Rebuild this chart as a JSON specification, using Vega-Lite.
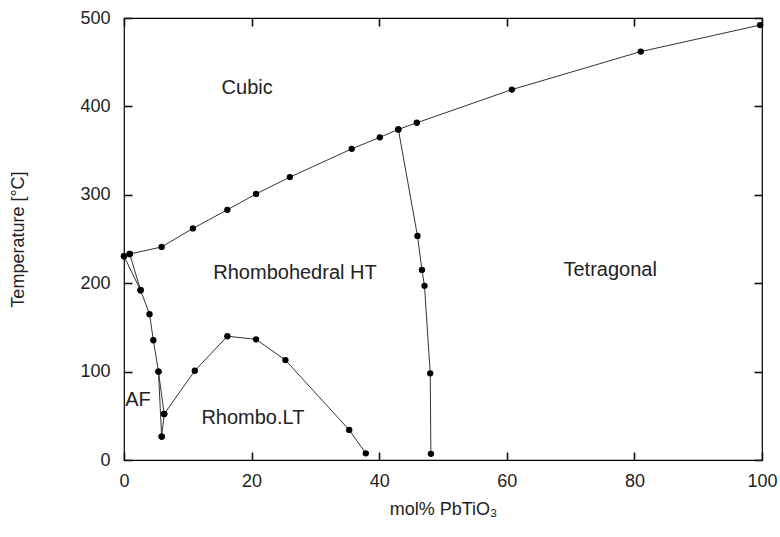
{
  "$schema": "https://vega.github.io/schema/vega-lite/v6.json",
  "width": 638,
  "height": 442,
  "autosize": "none",
  "padding": {"left": 124, "top": 18, "right": 18, "bottom": 77},
  "background": "white",
  "config": {
    "view": {"stroke": "#000", "strokeWidth": 1.2},
    "font": "Liberation Sans",
    "axis": {
      "domain": false,
      "grid": false,
      "zindex": 1,
      "tickColor": "#111",
      "tickWidth": 1.6,
      "tickOpacity": 1,
      "labelFlush": false,
      "labelFontSize": 18,
      "labelColor": "#222",
      "titleFontSize": 18,
      "titleFontWeight": "normal",
      "titleColor": "#222",
      "labelFont": "Liberation Sans",
      "titleFont": "Liberation Sans"
    }
  },
  "datasets": {
    "lines": [
      {"s": "A", "o": 1, "x": 0, "y": 230.5},
      {"s": "A", "o": 2, "x": 0.9, "y": 233},
      {"s": "A", "o": 3, "x": 5.9, "y": 241},
      {"s": "A", "o": 4, "x": 10.8, "y": 262},
      {"s": "A", "o": 5, "x": 16.2, "y": 283},
      {"s": "A", "o": 6, "x": 20.7, "y": 301},
      {"s": "A", "o": 7, "x": 26.0, "y": 320},
      {"s": "A", "o": 8, "x": 35.7, "y": 352},
      {"s": "A", "o": 9, "x": 40.1, "y": 365},
      {"s": "A", "o": 10, "x": 43.0, "y": 374},
      {"s": "A", "o": 11, "x": 45.9, "y": 381.5},
      {"s": "A", "o": 12, "x": 60.8, "y": 419},
      {"s": "A", "o": 13, "x": 81.0, "y": 462},
      {"s": "A", "o": 14, "x": 99.7, "y": 492},
      {"s": "B", "o": 1, "x": 43.0, "y": 374},
      {"s": "B", "o": 2, "x": 46.0, "y": 253.5},
      {"s": "B", "o": 3, "x": 46.7, "y": 215},
      {"s": "B", "o": 4, "x": 47.1, "y": 197},
      {"s": "B", "o": 5, "x": 48.0, "y": 98},
      {"s": "B", "o": 6, "x": 48.1, "y": 7},
      {"s": "C", "o": 1, "x": 0, "y": 230.5},
      {"s": "C", "o": 2, "x": 2.6, "y": 192},
      {"s": "C", "o": 3, "x": 4.0, "y": 165},
      {"s": "C", "o": 4, "x": 4.6, "y": 135.5},
      {"s": "C", "o": 5, "x": 5.4, "y": 100},
      {"s": "C", "o": 6, "x": 5.9, "y": 26.5},
      {"s": "D", "o": 1, "x": 0.9, "y": 233},
      {"s": "D", "o": 2, "x": 2.6, "y": 192},
      {"s": "E", "o": 1, "x": 5.9, "y": 26.5},
      {"s": "E", "o": 2, "x": 6.3, "y": 52},
      {"s": "E", "o": 3, "x": 11.1, "y": 101},
      {"s": "E", "o": 4, "x": 16.2, "y": 140},
      {"s": "E", "o": 5, "x": 20.7, "y": 136.5},
      {"s": "E", "o": 6, "x": 25.3, "y": 113},
      {"s": "E", "o": 7, "x": 35.3, "y": 34},
      {"s": "E", "o": 8, "x": 37.9, "y": 7.5},
      {"s": "F", "o": 1, "x": 5.4, "y": 100},
      {"s": "F", "o": 2, "x": 6.3, "y": 52}
    ],
    "labels": [
      {"t": "Cubic", "x": 19.3, "y": 421},
      {"t": "Rhombohedral HT", "x": 26.8, "y": 211.5},
      {"t": "Tetragonal", "x": 76.2, "y": 215},
      {"t": "AF", "x": 2.2, "y": 68},
      {"t": "Rhombo.LT", "x": 20.2, "y": 47.5}
    ]
  },
  "layer": [
    {
      "data": {"name": "lines"},
      "mark": {"type": "line", "color": "#333", "strokeWidth": 1},
      "encoding": {
        "x": {"field": "x", "type": "quantitative", "scale": {"domain": [0, 100], "nice": false},
              "axis": {"values": [0, 20, 40, 60, 80, 100], "title": "mol% PbTiO₃", "ticks": false, "tickSize": 0, "labelPadding": 12, "titlePadding": 10}},
        "y": {"field": "y", "type": "quantitative", "scale": {"domain": [0, 500], "nice": false},
              "axis": {"values": [0, 100, 200, 300, 400, 500], "title": "Temperature [°C]", "ticks": false, "tickSize": 0, "labelPadding": 14, "titlePadding": 52}},
        "detail": {"field": "s"},
        "order": {"field": "o"}
      }
    },
    {
      "data": {"name": "lines"},
      "mark": {"type": "point", "filled": true, "color": "#000", "size": 40, "opacity": 1},
      "encoding": {
        "x": {"field": "x", "type": "quantitative", "axis": {"orient": "top", "values": [0, 20, 40, 60, 80, 100], "tickSize": 8, "offset": -8, "labels": false, "title": null}},
        "y": {"field": "y", "type": "quantitative", "axis": {"orient": "right", "values": [0, 100, 200, 300, 400, 500], "tickSize": 8, "offset": -8, "labels": false, "title": null}}
      }
    },
    {
      "data": {"name": "labels"},
      "mark": {"type": "text", "fontSize": 20, "color": "#222", "font": "Liberation Sans"},
      "encoding": {
        "x": {"field": "x", "type": "quantitative", "axis": {"orient": "bottom", "values": [0, 20, 40, 60, 80, 100], "tickSize": 8, "offset": -8, "labels": false, "title": null}},
        "y": {"field": "y", "type": "quantitative", "axis": {"orient": "left", "values": [0, 100, 200, 300, 400, 500], "tickSize": 8, "offset": -8, "labels": false, "title": null}},
        "text": {"field": "t"}
      }
    }
  ],
  "resolve": {"axis": {"x": "independent", "y": "independent"}}
}
